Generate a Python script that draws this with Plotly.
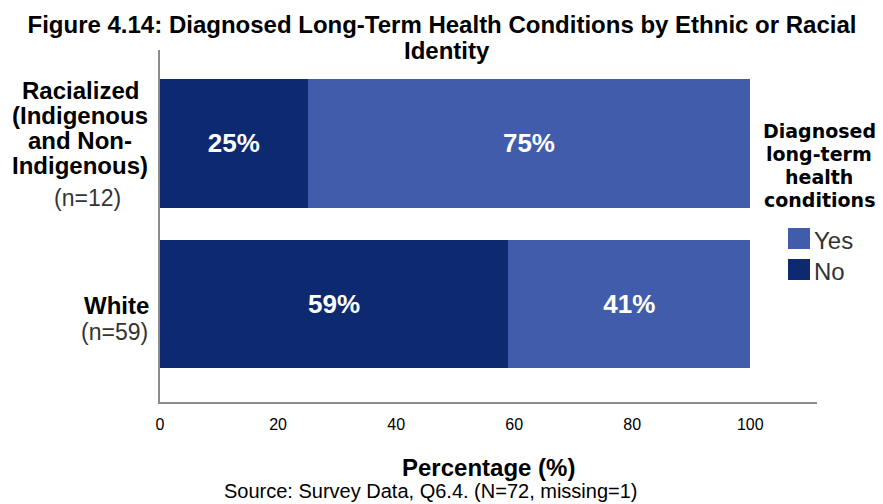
import plotly.graph_objects as go

# Survey categories (bottom to top on the chart)
group_pos = [0, 1]
group_counts = ["(n=59)", "(n=12)"]
white_label = "White"
racialized_lines = ["Racialized", "(Indigenous", "and Non-", "Indigenous)"]

# Share of respondents (%) per response
no_pct = [59, 25]
yes_pct = [41, 75]

# Legend entries, top to bottom
legend_names = ["Yes", "No"]
legend_title_lines = ["Diagnosed", "long-term", "health", "conditions"]

NO_COLOR = "#0d2a70"
YES_COLOR = "#415caa"
FONT = "Liberation Sans, Arial, sans-serif"
HEAD_FONT = "DejaVu Sans, sans-serif"

# Plot area geometry in pixels (used to place labels around it)
L, R, T, B = 160, 817, 50, 402


def px_x(px):
    return (px - L) / (R - L)


def px_y(py):
    return (B - py) / (B - T)


fig = go.Figure()
for name, vals, col in [("No", no_pct, NO_COLOR), ("Yes", yes_pct, YES_COLOR)]:
    fig.add_trace(go.Bar(
        name=name, y=group_pos, x=vals, orientation="h",
        marker=dict(color=col, line=dict(width=0)),
        text=[f"{v}%" for v in vals], textposition="inside",
        insidetextanchor="middle",
        textfont=dict(family=FONT, size=26, color="white", weight="bold"),
        width=0.8, showlegend=False,
    ))

annotations = []
shapes = []

# Category labels beside the bars
for i, line in enumerate(racialized_lines):
    annotations.append(dict(
        xref="paper", yref="paper", x=px_x(80), y=px_y(90 + 25 * i),
        xanchor="center", yanchor="middle", showarrow=False,
        text=f"<b>{line}</b>", font=dict(family=FONT, size=24, color="black"),
    ))
annotations.append(dict(
    xref="paper", yref="paper", x=px_x(87), y=px_y(198),
    xanchor="center", yanchor="middle", showarrow=False,
    text=group_counts[1], font=dict(family=FONT, size=23, color="#333"),
))
annotations.append(dict(
    xref="paper", yref="paper", x=px_x(151), y=px_y(305),
    xanchor="right", yanchor="middle", showarrow=False,
    text=f"<b>{white_label}</b>", font=dict(family=FONT, size=24, color="black"),
))
annotations.append(dict(
    xref="paper", yref="paper", x=px_x(150), y=px_y(332),
    xanchor="right", yanchor="middle", showarrow=False,
    text=group_counts[0], font=dict(family=FONT, size=23, color="#333"),
))

# Title second line
annotations.append(dict(
    xref="paper", yref="paper", x=px_x(447), y=px_y(50),
    xanchor="center", yanchor="middle", showarrow=False,
    text="<b>Identity</b>", font=dict(family=FONT, size=24, color="black"),
))

# Legend heading
for i, line in enumerate(legend_title_lines):
    annotations.append(dict(
        xref="paper", yref="paper", x=px_x(819), y=px_y(131 + 23 * i),
        xanchor="center", yanchor="middle", showarrow=False,
        text=f"<b>{line}</b>", font=dict(family=HEAD_FONT, size=19, color="black"),
    ))

# Legend swatches and names
for i, (name, col) in enumerate(zip(legend_names, [YES_COLOR, NO_COLOR])):
    top = 228 + 31 * i
    shapes.append(dict(
        type="rect", xref="paper", yref="paper",
        x0=px_x(788), x1=px_x(810), y0=px_y(top + 21), y1=px_y(top),
        fillcolor=col, line=dict(width=0),
    ))
    annotations.append(dict(
        xref="paper", yref="paper", x=px_x(812), y=px_y(top + 12),
        xanchor="left", yanchor="middle", showarrow=False,
        text=name, font=dict(family=FONT, size=24, color="#333"),
    ))

# Axis title and source note
annotations.append(dict(
    xref="paper", yref="paper", x=px_x(488), y=px_y(467),
    xanchor="center", yanchor="middle", showarrow=False,
    text="<b>Percentage (%)</b>", font=dict(family=FONT, size=24, color="black"),
))
annotations.append(dict(
    xref="paper", yref="paper", x=px_x(431), y=px_y(491),
    xanchor="center", yanchor="middle", showarrow=False,
    text="Source: Survey Data, Q6.4. (N=72, missing=1)",
    font=dict(family=FONT, size=20, color="black"),
))

fig.update_layout(
    width=883, height=504,
    margin=dict(l=L, r=883 - R, t=T, b=504 - B),
    paper_bgcolor="white", plot_bgcolor="white",
    barmode="stack", bargap=0.2, showlegend=False,
    title=dict(
        text="<b>Figure 4.14: Diagnosed Long-Term Health Conditions by Ethnic or Racial</b>",
        x=442 / 883, xanchor="center", y=1 - 25 / 504, yanchor="middle",
        font=dict(family=FONT, size=24, color="black"),
    ),
    xaxis=dict(
        range=[0, 111.3], tickvals=[0, 20, 40, 60, 80, 100],
        showgrid=False, zeroline=False, showline=True, linecolor="#8c8c8c", linewidth=2,
        ticks="", ticklabelstandoff=7,
        tickfont=dict(family=FONT, size=16, color="black"),
    ),
    yaxis=dict(
        range=[-0.61, 1.58], tickvals=group_pos, showticklabels=False,
        showgrid=False, zeroline=False, showline=True, linecolor="#8c8c8c", linewidth=2,
        ticks="",
    ),
    annotations=annotations,
    shapes=shapes,
)

fig.write_html("out.html")
